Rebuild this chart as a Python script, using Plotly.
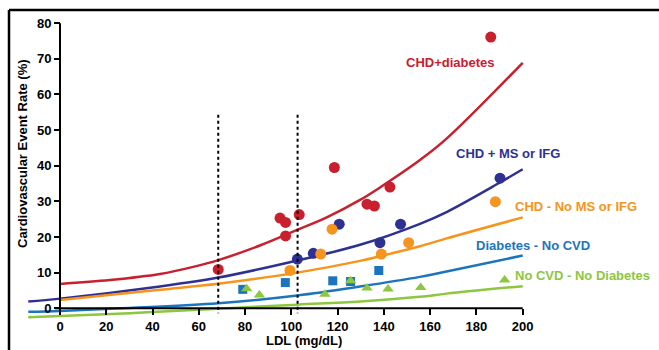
import plotly.graph_objects as go

# ---------------- data ----------------
chd_diab_x = [68.4, 95.1, 97.5, 97.5, 103.4, 118.6, 132.7, 135.9, 142.6, 186.2]
chd_diab_y = [10.9, 25.3, 24.1, 20.3, 26.3, 39.5, 29.2, 28.7, 34.0, 76.1]
chd_diab_fit_x = [0, 21.6, 43.2, 57.6, 68.4, 86.4, 102.6, 115.3, 129.7, 138.3, 155.6, 167.1, 200]
chd_diab_fit_y = [6.8, 7.9, 9.6, 11.6, 13.5, 17.6, 22.0, 25.5, 30.4, 33.9, 41.6, 47.6, 68.9]

chd_ms_x = [102.6, 109.5, 120.7, 138.3, 147.2, 190.2]
chd_ms_y = [13.8, 15.4, 23.6, 18.4, 23.6, 36.5]
chd_ms_fit_x = [-13.7, 0, 43.2, 68.4, 102.6, 129.7, 155.6, 167.1, 190.2, 200]
chd_ms_fit_y = [1.9, 2.7, 6.1, 8.6, 13.4, 17.8, 23.7, 27.0, 35.3, 39.0]

chd_no_x = [99.4, 112.7, 117.6, 138.9, 150.7, 188.2]
chd_no_y = [10.6, 15.2, 22.2, 15.2, 18.4, 29.9]
chd_no_fit_x = [0, 43.2, 68.4, 102.6, 129.7, 138.3, 155.6, 167.1, 200]
chd_no_fit_y = [2.3, 5.2, 6.9, 10.0, 13.3, 14.6, 17.4, 19.6, 25.5]

diab_x = [79.0, 97.4, 117.9, 125.6, 137.8]
diab_y = [5.3, 7.2, 7.7, 7.5, 10.6]
diab_fit_x = [-13.7, 0, 30, 68.4, 102.6, 129.7, 155.6, 167.1, 200]
diab_fit_y = [-1.0, -0.75, 0.1, 1.4, 3.6, 6.1, 8.8, 10.3, 14.8]

nocvd_x = [80.7, 86.2, 114.5, 125.6, 132.7, 141.8, 155.9, 192.2]
nocvd_y = [5.5, 3.7, 3.9, 7.7, 5.7, 5.4, 5.8, 7.9]
nocvd_fit_x = [-13.7, 0, 30, 60, 102.6, 129.7, 155.6, 167.1, 200]
nocvd_fit_y = [-2.5, -2.2, -1.4, -0.4, 1.0, 1.9, 3.2, 4.1, 6.2]

cutoffs = [68.4, 102.7]
x_ticks = [0, 20, 40, 60, 80, 100, 120, 140, 160, 180, 200]
y_ticks = [0, 10, 20, 30, 40, 50, 60, 70, 80]

series_labels = ["CHD+diabetes", "CHD + MS or IFG", "CHD - No MS or IFG",
                 "Diabetes - No CVD", "No CVD - No Diabetes"]

# ---------------- styling ----------------
RED, NAVY, ORANGE, BLUE, GREEN = "#C8202F", "#2E3192", "#F7941D", "#1C75BC", "#8DC63F"
FONT = "Liberation Sans, Arial, sans-serif"

W, H = 659, 350
L, R, T, B = 28, 129, 20, 30
PW, PH = W - L - R, H - T - B
XR = [-13.83, 203.16]
YR = [-3.3, 80.9]


def px_to_paper(px, py):
    return (px - L) / PW, (H - B - py) / PH


fig = go.Figure()

series = [
    (chd_diab_fit_x, chd_diab_fit_y, chd_diab_x, chd_diab_y, RED, "circle", 11),
    (chd_ms_fit_x, chd_ms_fit_y, chd_ms_x, chd_ms_y, NAVY, "circle", 11),
    (chd_no_fit_x, chd_no_fit_y, chd_no_x, chd_no_y, ORANGE, "circle", 11),
    (diab_fit_x, diab_fit_y, diab_x, diab_y, BLUE, "square", 9),
    (nocvd_fit_x, nocvd_fit_y, nocvd_x, nocvd_y, GREEN, "triangle-up", 10),
]

for fx, fy, mx, my, col, sym, sz in series:
    fig.add_trace(go.Scatter(x=fx, y=fy, mode="lines", line=dict(color=col, width=2.5, shape="spline", smoothing=1.0),
                             showlegend=False, hoverinfo="skip", cliponaxis=False))
for fx, fy, mx, my, col, sym, sz in series:
    fig.add_trace(go.Scatter(x=mx, y=my, mode="markers",
                             marker=dict(color=col, symbol=sym, size=sz, line=dict(width=0)),
                             showlegend=False, cliponaxis=False))

# dotted cut-off lines
for c in cutoffs:
    fig.add_shape(type="line", xref="x", yref="y", x0=c, x1=c, y0=54.3, y1=-1.4,
                  line=dict(color="black", width=2, dash="dot"), layer="above")

# axis lines
fig.add_shape(type="line", xref="x", yref="y", x0=-2.2, x1=200, y0=0, y1=0,
              line=dict(color="black", width=2))
fig.add_shape(type="line", xref="x", yref="y", x0=0, x1=0, y0=80, y1=0,
              line=dict(color="black", width=2))

# frame (left and top edges)
fx0, fy0 = px_to_paper(9, 10)
fx1, fy1 = px_to_paper(W + 5, H + 5)
fig.add_shape(type="line", xref="paper", yref="paper", x0=fx0, x1=fx0, y0=fy0, y1=fy1,
              line=dict(color="black", width=2.5))
fig.add_shape(type="line", xref="paper", yref="paper", x0=fx0, x1=fx1, y0=fy0, y1=fy0,
              line=dict(color="black", width=2.5))

# series labels
label_pos = [(450, 62.7), (508.3, 153.3), (575.5, 206), (532.5, 245.3), (582.5, 275)]
label_cols = [RED, NAVY, ORANGE, BLUE, GREEN]
for txt, (px, py), col in zip(series_labels, label_pos, label_cols):
    ax, ay = px_to_paper(px, py)
    fig.add_annotation(text=txt, x=ax, y=ay, xref="paper", yref="paper", showarrow=False,
                       xanchor="center", yanchor="middle",
                       font=dict(family=FONT, size=13, color=col, weight="bold"))

# axis titles
tx, ty = px_to_paper(22, 154)
fig.add_annotation(text="Cardiovascular Event Rate (%)", x=tx, y=ty, xref="paper", yref="paper",
                   showarrow=False, textangle=-90, xanchor="center", yanchor="middle",
                   font=dict(family=FONT, size=13, color="black", weight="bold"))
tx, ty = px_to_paper(304, 340)
fig.add_annotation(text="LDL (mg/dL)", x=tx, y=ty, xref="paper", yref="paper",
                   showarrow=False, xanchor="center", yanchor="middle",
                   font=dict(family=FONT, size=13, color="black", weight="bold"))

x_axis_pos = (0 - YR[0]) / (YR[1] - YR[0])
y_axis_pos = (0 - XR[0]) / (XR[1] - XR[0])

fig.update_layout(
    width=W, height=H,
    margin=dict(l=L, r=R, t=T, b=B, autoexpand=False),
    paper_bgcolor="white", plot_bgcolor="white",
    xaxis=dict(range=XR, anchor="free", position=x_axis_pos, showgrid=False, zeroline=False,
               showline=False, tickmode="array", tickvals=x_ticks,
               ticks="outside", ticklen=6, tickwidth=2, tickcolor="black",
               tickfont=dict(family=FONT, size=13, color="black", weight="bold")),
    yaxis=dict(range=YR, anchor="free", position=y_axis_pos, showgrid=False, zeroline=False,
               showline=False, tickmode="array", tickvals=y_ticks,
               ticks="outside", ticklen=6, tickwidth=2, tickcolor="black",
               tickfont=dict(family=FONT, size=13, color="black", weight="bold")),
)

fig.write_html("out.html", config={"displayModeBar": False},
               post_script="document.body.style.margin='0px';document.body.style.overflow='hidden';")
